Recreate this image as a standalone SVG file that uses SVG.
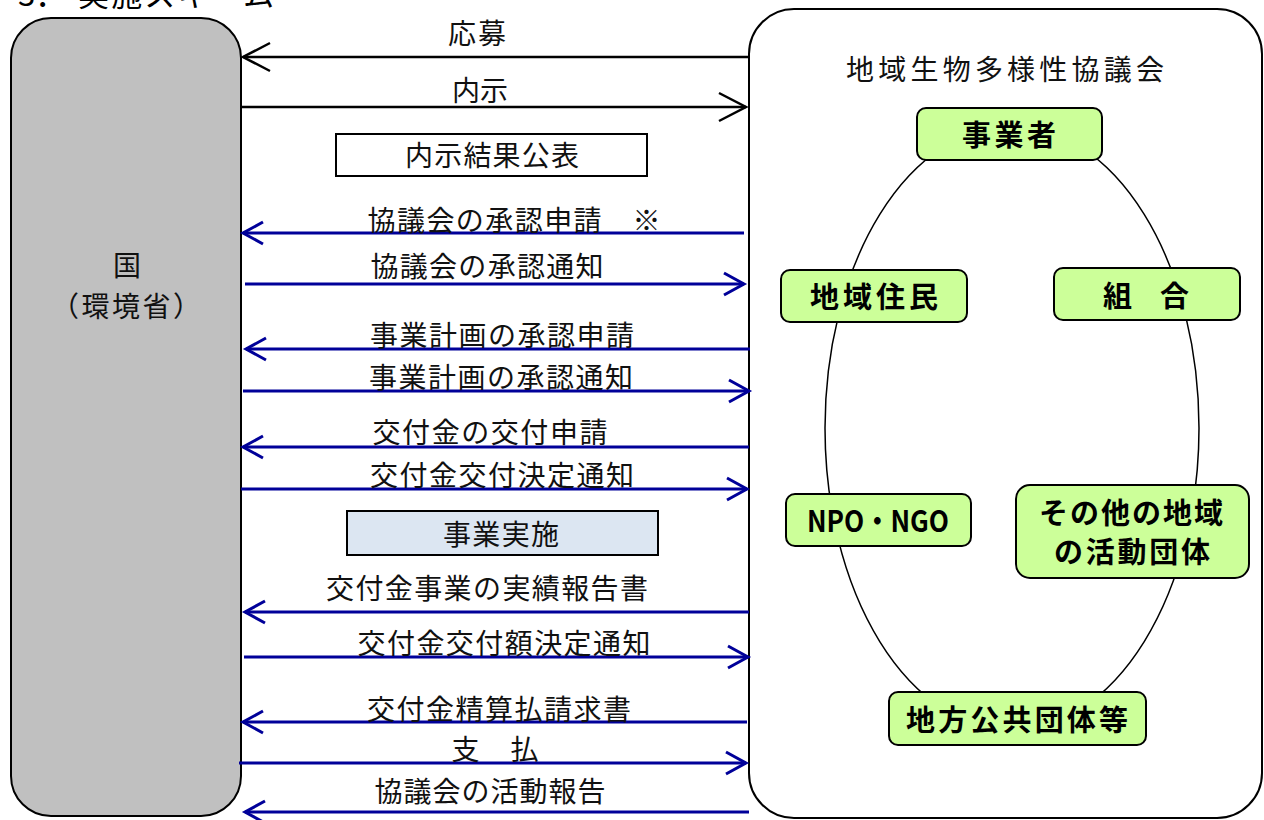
<svg xmlns="http://www.w3.org/2000/svg" width="1264" height="820" viewBox="0 0 1264 820">
<style>
.lbl{font-family:"Noto Sans CJK JP","Liberation Serif",serif;font-size:28px;fill:#111;text-anchor:middle}
.node{fill:#ccff99;stroke:#000;stroke-width:2}
.nt{font-family:"Noto Sans CJK JP",sans-serif;font-size:29px;font-weight:bold;fill:#000;text-anchor:middle}
.blue{stroke:#000099;stroke-width:3;fill:none}
.black{stroke:#000;stroke-width:2.5;fill:none}
</style>
<defs>
<marker id="ab" markerUnits="userSpaceOnUse" viewBox="-25 -15 30 30" refX="0" refY="0" markerWidth="30" markerHeight="30" orient="auto">
<path d="M-20,-11 L0,0 L-20,11" fill="none" stroke="#000099" stroke-width="3"/>
</marker>
<marker id="ak" markerUnits="userSpaceOnUse" viewBox="-32 -18 36 36" refX="0" refY="0" markerWidth="36" markerHeight="36" orient="auto">
<path d="M-27,-14 L0,0 L-27,14" fill="none" stroke="#000" stroke-width="2.5"/>
</marker>
</defs>
<rect width="1264" height="820" fill="#fff"/>
<text font-family="Noto Sans CJK JP,sans-serif" font-size="31" fill="#000"><tspan x="18" y="6">3．</tspan><tspan x="78" y="6" textLength="196" lengthAdjust="spacing">実施スキーム</tspan></text>

<g id="kuni">
<rect x="11" y="18" width="230" height="798" rx="40" fill="#c0c0c0" stroke="#000" stroke-width="2"/>
<text class="lbl" x="127" y="276" font-size="30">国</text>
<text class="lbl" x="126" y="317" font-size="30" textLength="150" lengthAdjust="spacing">（環境省）</text>
</g>

<g id="kyogikai">
<rect x="749" y="9" width="513" height="809" rx="45" fill="#fff" stroke="#000" stroke-width="2"/>
<text class="lbl" x="1005" y="80" font-size="30" textLength="318" lengthAdjust="spacing">地域生物多様性協議会</text>
<ellipse cx="1012" cy="428" rx="187" ry="302" fill="none" stroke="#000" stroke-width="1.5"/>
</g>

<g id="jigyosha">
<rect class="node" x="917" y="108" width="185" height="52" rx="9"/>
<text class="nt" x="1009" y="146" textLength="94" lengthAdjust="spacing">事業者</text>
</g>
<g id="jumin">
<rect class="node" x="781" y="270" width="186" height="52" rx="9"/>
<text class="nt" x="874" y="308" textLength="128" lengthAdjust="spacing">地域住民</text>
</g>
<g id="kumiai">
<rect class="node" x="1054" y="268" width="186" height="52" rx="9"/>
<text class="nt" x="1146" y="307" textLength="86" lengthAdjust="spacing">組　合</text>
</g>
<g id="npo">
<rect class="node" x="786" y="494" width="185" height="52" rx="9"/>
<text class="nt" x="878" y="532" font-family="Liberation Sans,Noto Sans CJK JP,sans-serif" font-weight="normal" font-size="30" textLength="142" lengthAdjust="spacingAndGlyphs">NPO・NGO</text>
</g>
<g id="sonota">
<rect class="node" x="1016" y="485" width="233" height="93" rx="14"/>
<text class="nt" x="1131" y="524" textLength="184" lengthAdjust="spacing">その他の地域</text>
<text class="nt" x="1132" y="563" textLength="156" lengthAdjust="spacing">の活動団体</text>
</g>
<g id="chiho">
<rect class="node" x="889" y="692" width="257" height="53" rx="9"/>
<text class="nt" x="1017" y="731" textLength="222" lengthAdjust="spacing">地方公共団体等</text>
</g>

<g id="naiji-box">
<rect x="336" y="134" width="311" height="42" fill="#fff" stroke="#000" stroke-width="2"/>
<text class="lbl" x="492" y="166" textLength="174" lengthAdjust="spacing">内示結果公表</text>
</g>
<g id="jisshi-box">
<rect x="347" y="511" width="311" height="44" fill="#dce6f2" stroke="#000" stroke-width="2"/>
<text class="lbl" x="501" y="545" textLength="116" lengthAdjust="spacing">事業実施</text>
</g>

<g id="connectors">
<line class="black" x1="749" y1="57" x2="243" y2="57" marker-end="url(#ak)"/>
<line class="black" x1="241" y1="107" x2="746" y2="107" marker-end="url(#ak)"/>
<line class="blue" x1="744" y1="233" x2="243" y2="233" marker-end="url(#ab)"/>
<line class="blue" x1="245" y1="284" x2="744" y2="284" marker-end="url(#ab)"/>
<line class="blue" x1="750" y1="349" x2="246" y2="349" marker-end="url(#ab)"/>
<line class="blue" x1="243" y1="391" x2="749" y2="391" marker-end="url(#ab)"/>
<line class="blue" x1="749" y1="447" x2="243" y2="447" marker-end="url(#ab)"/>
<line class="blue" x1="241" y1="489" x2="747" y2="489" marker-end="url(#ab)"/>
<line class="blue" x1="749" y1="612" x2="245" y2="612" marker-end="url(#ab)"/>
<line class="blue" x1="244" y1="657" x2="748" y2="657" marker-end="url(#ab)"/>
<line class="blue" x1="747" y1="722" x2="243" y2="722" marker-end="url(#ab)"/>
<line class="blue" x1="239" y1="763" x2="746" y2="763" marker-end="url(#ab)"/>
<line class="blue" x1="749" y1="812" x2="245" y2="812" marker-end="url(#ab)"/>
</g>

<g id="labels">
<text class="lbl" x="477" y="44" textLength="58" lengthAdjust="spacing">応募</text>
<text class="lbl" x="480" y="101" textLength="56" lengthAdjust="spacing">内示</text>
<text class="lbl" x="514" y="231" textLength="293" lengthAdjust="spacing">協議会の承認申請　※</text>
<text class="lbl" x="487" y="277" textLength="233" lengthAdjust="spacing">協議会の承認通知</text>
<text class="lbl" x="502" y="346" textLength="264" lengthAdjust="spacing">事業計画の承認申請</text>
<text class="lbl" x="501" y="388" textLength="264" lengthAdjust="spacing">事業計画の承認通知</text>
<text class="lbl" x="490" y="443" textLength="235" lengthAdjust="spacing">交付金の交付申請</text>
<text class="lbl" x="502" y="486" textLength="264" lengthAdjust="spacing">交付金交付決定通知</text>
<text class="lbl" x="487" y="599" textLength="322" lengthAdjust="spacing">交付金事業の実績報告書</text>
<text class="lbl" x="504" y="654" textLength="293" lengthAdjust="spacing">交付金交付額決定通知</text>
<text class="lbl" x="499" y="720" textLength="264" lengthAdjust="spacing">交付金精算払請求書</text>
<text class="lbl" x="495" y="760" textLength="87" lengthAdjust="spacing">支　払</text>
<text class="lbl" x="490" y="802" textLength="231" lengthAdjust="spacing">協議会の活動報告</text>
</g>
</svg>
